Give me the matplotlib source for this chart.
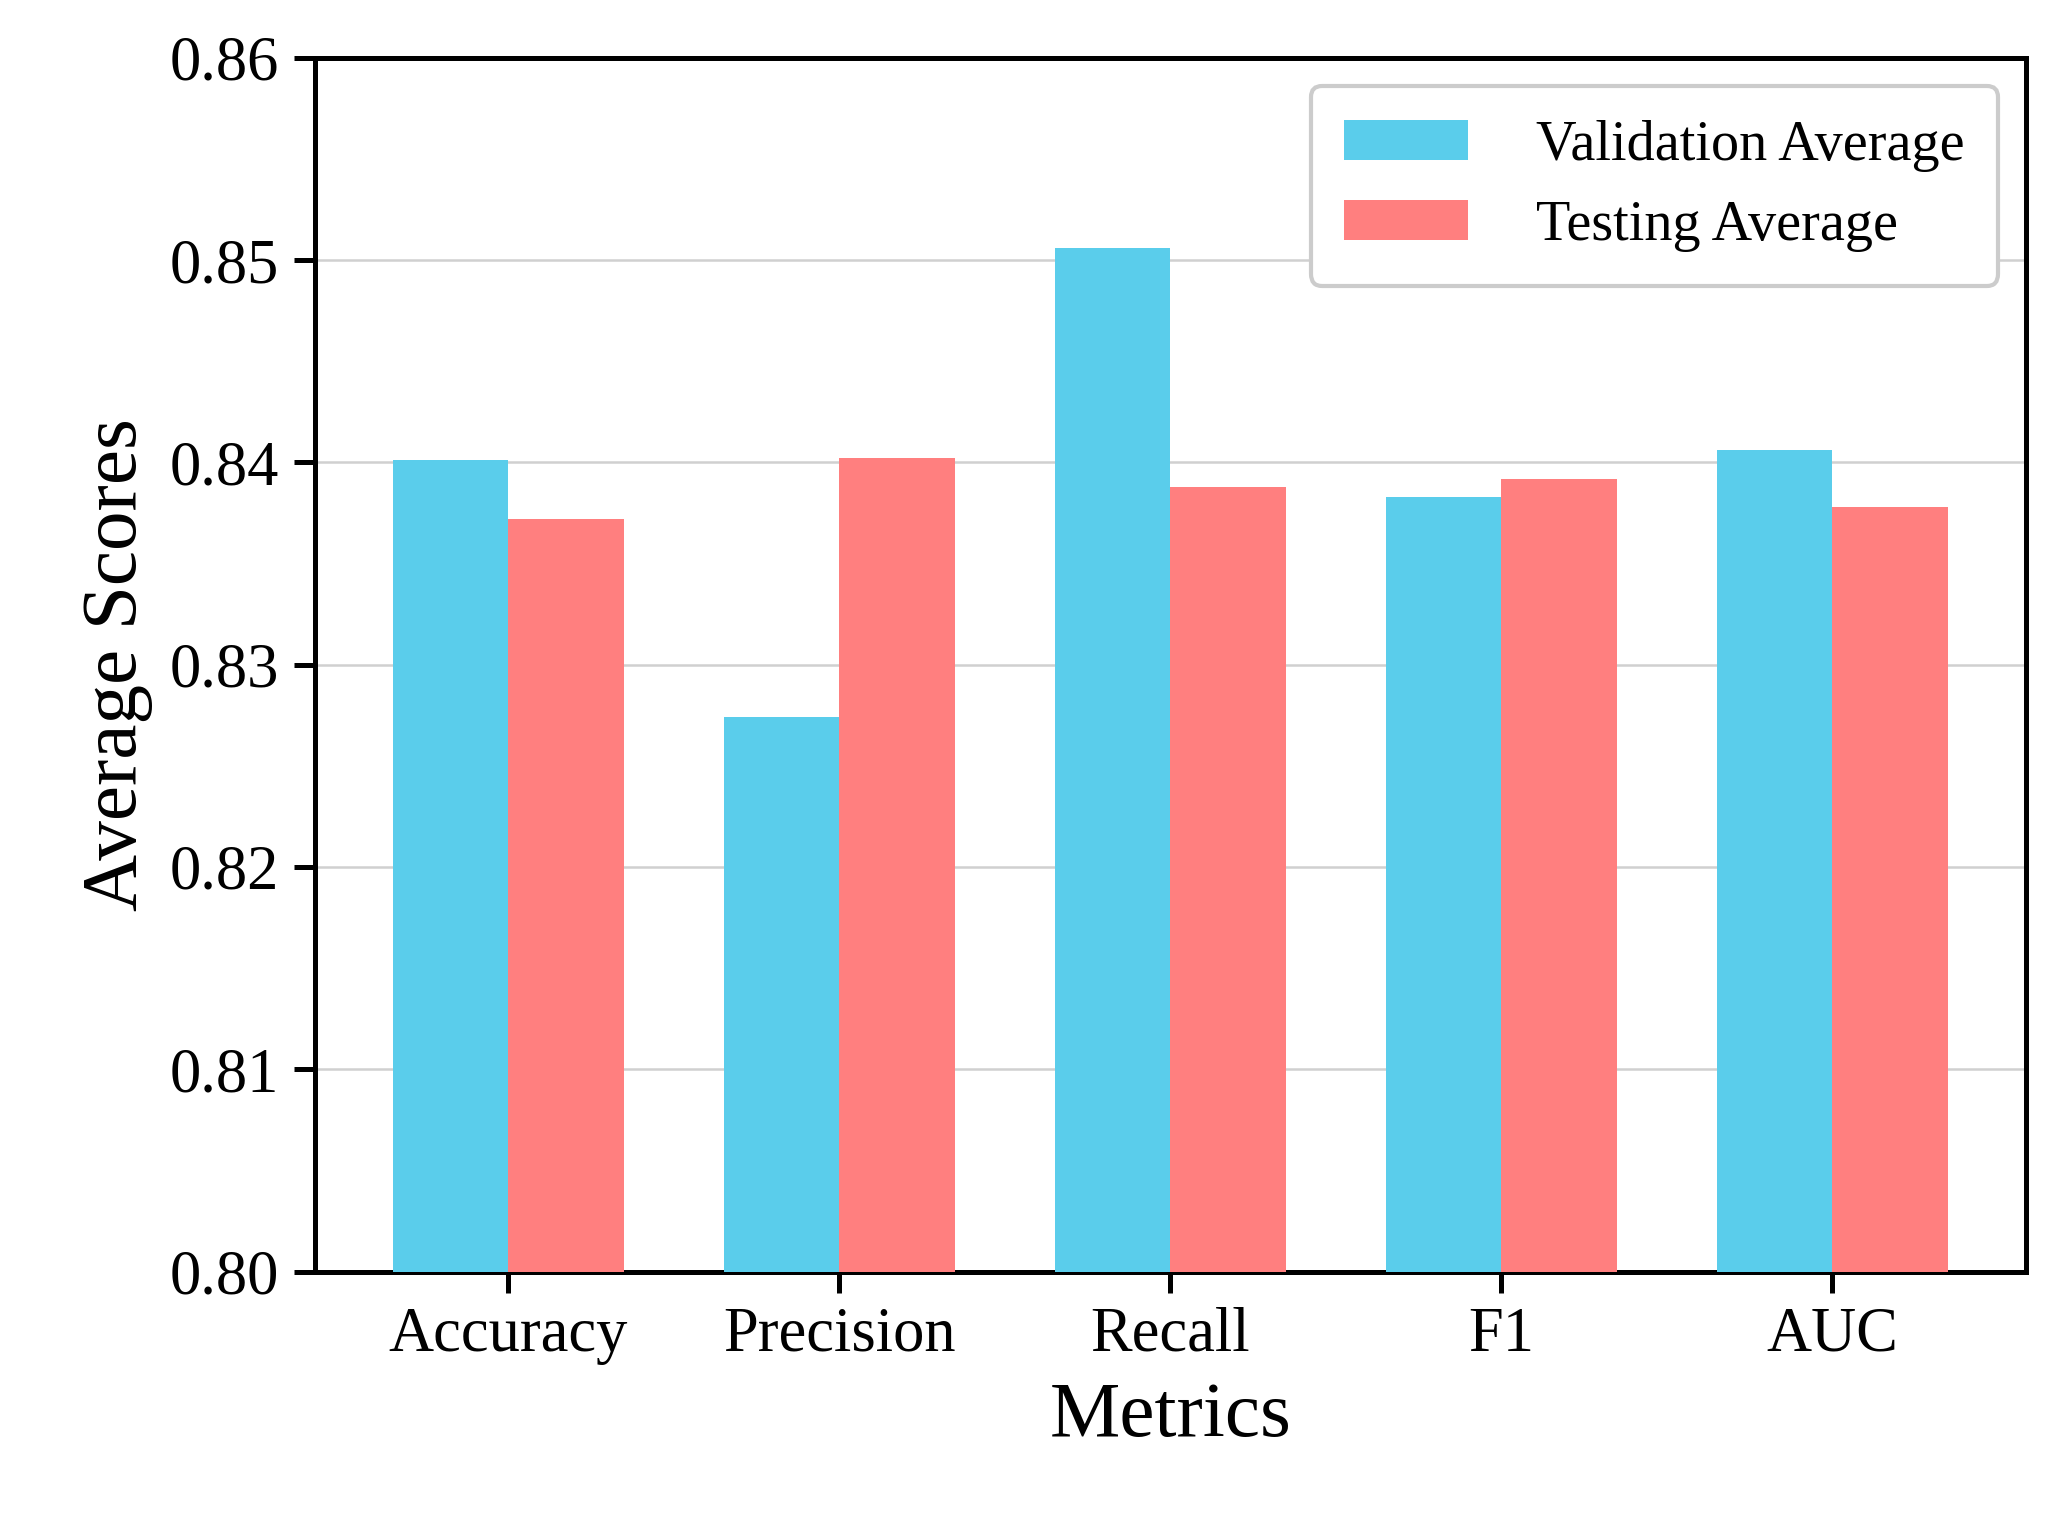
import matplotlib
matplotlib.use("Agg")
import matplotlib.pyplot as plt
import numpy as np

metrics = ["Accuracy", "Precision", "Recall", "F1", "AUC"]
validation = [0.8401, 0.8274, 0.8506, 0.8383, 0.8406]
testing = [0.8372, 0.8402, 0.8388, 0.8392, 0.8378]

plt.rcParams["font.family"] = "Liberation Serif"
fig = plt.figure(figsize=(2057/300, 1521/300), dpi=300)
ax = fig.add_axes([0.153, 0.164, 0.832, 0.798])
x = np.arange(len(metrics))
w = 0.35
ax.bar(x - w/2, validation, w, color="#5ACDEB", label="Validation Average", zorder=3)
ax.bar(x + w/2, testing, w, color="#FF7F7F", label="Testing Average", zorder=3)
ax.set_ylim(0.80, 0.86)
ax.set_yticks(np.arange(0.80, 0.8601, 0.01))
ax.set_yticklabels([f"{v:.2f}" for v in np.arange(0.80, 0.8601, 0.01)])
ax.set_xticks(x)
ax.set_xticklabels(metrics)
ax.tick_params(labelsize=15, width=1.2, length=5)
ax.grid(axis="y", color="#d0d0d0", linewidth=0.6, zorder=0)
for s in ax.spines.values():
    s.set_linewidth(1.2)
ax.set_xlabel("Metrics", fontsize=19)
ax.set_ylabel("Average Scores", fontsize=19)
ax.legend(fontsize=13.5, loc="upper right", fancybox=True, framealpha=1,
          edgecolor="#cccccc", handlelength=2.2, handletextpad=1.2, borderpad=0.6)
fig.savefig("out.png", dpi=300)
